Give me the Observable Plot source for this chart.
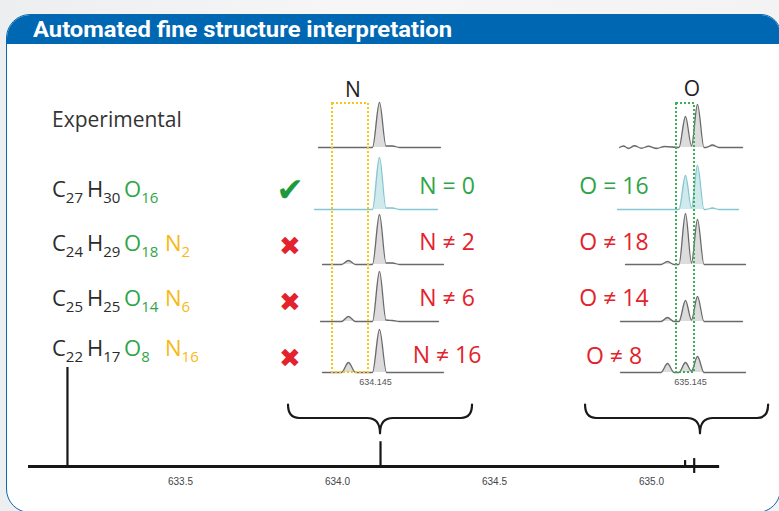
<!DOCTYPE html>
<html>
<head>
<meta charset="utf-8">
<script src="https://cdn.jsdelivr.net/npm/d3@7"></script>
<script src="https://cdn.jsdelivr.net/npm/@observablehq/plot@0.6"></script>
<style>
  html, body { margin:0; padding:0; }
  body { width:779px; height:511px; overflow:hidden; background:#f2f3f4; }
  #page { position:relative; width:779px; height:511px; overflow:hidden;
          background: linear-gradient(90deg, #eceef0 0%, #f6f6f6 45%, #f3f3f3 100%); }
  #box { position:absolute; left:6px; top:14px; width:775px; height:499px; box-sizing:border-box;
         border:1.5px solid #0a68b3; border-radius:24px 20px 24px 24px; background:#fff; overflow:hidden; }
  #hdr { height:29px; background:#0067b2; color:#fff; font:700 22px Roboto, sans-serif; line-height:29px;
         padding-left:26px; white-space:nowrap; }
  #hdr span { display:inline-block; transform-origin:0 50%; }
  .formula { position:absolute; white-space:nowrap; font-family:"Open Sans", sans-serif; line-height:1; }
  .formula .g { display:inline-block; font-size:22px; }
  .formula sub { font-size:15px; vertical-align:-6px; line-height:0; }
</style>
</head>
<body>
<div id="page">
  <div id="box"><div id="hdr"><span id="title">Automated fine structure interpretation</span></div></div>
</div>
<script>
// ---------------- data ----------------
// overview spectrum (stick peaks, m/z and relative intensity)
const mainMz     = [633.14, 634.137, 635.107, 635.136];
const mainTop    = [1.00, 0.25, 0.06, 0.08];
const mainLow    = [0, 0, 0, -0.07];
const mainSpan   = [633.016, 635.217];
const mainTicks  = [633.5, 634.0, 634.5, 635.0];

// candidate formulas
const formulas = [
  [["C","27"],["H","30"],["O","16"]],
  [["C","24"],["H","29"],["O","18"],["N","2"]],
  [["C","25"],["H","25"],["O","14"],["N","6"]],
  [["C","22"],["H","17"],["O","8"],["N","16"]]
];
const nCounts = [0, 2, 6, 16];
const oCounts = [16, 18, 14, 8];
const isMatch = [true, false, false, false];
const rowLabels = ["Experimental"];

// N fine-structure window (row 0 = experimental, rows 1..4 = candidates)
const nTick     = [634.145];
const nRegion   = [634.1364, 634.1436];
const nExtents  = [[634.1336,634.158],[634.1328,634.1574],[634.1344,634.1586],[634.134,634.1576],[634.1344,634.1586]];
const nPeaksMz  = [[634.1458,634.1484],[634.1458,634.1484],[634.1396,634.1458,634.1484],[634.1396,634.1458,634.1484],[634.1396,634.1458]];
const nPeaksH   = [[0.90,0.03],[1.04,0.03],[0.08,1.00,0.03],[0.10,1.00,0.02],[0.20,0.86]];

// O fine-structure window
const oTick     = [635.145];
const oRegion   = [635.1422, 635.1458];
const oExtents  = [[635.1308,635.1554],[635.1304,635.1546],[635.132,635.156],[635.131,635.1554],[635.131,635.156]];
const oPeaksMz  = [[635.144,635.1464,635.1494],[635.144,635.1464,635.1494],[635.1404,635.144,635.1464],[635.1404,635.144,635.1464],[635.1404,635.144,635.1464]];
const oPeaksH   = [[0.62,0.86,0.05],[0.68,0.88,0.03],[0.06,1.02,0.90],[0.08,0.42,0.50],[0.18,0.20,0.32]];
const oNoiseMz  = [635.1316,635.1326,635.1338,635.1352,635.1366,635.1382,635.1398];
const oNoiseH   = [0.03,-0.02,0.035,-0.015,0.025,-0.02,0.02];

// braces linking the windows to the overview spectrum
const braces = [
  {lo:633.844, mid:634.137, hi:634.430},
  {lo:634.790, mid:635.156, hi:635.373}
];

// ---------------- layout / style ----------------
const page = document.getElementById("page");
const GREEN = "#2fa548", RED = "#e3222b", YELLOW = "#f7b914", DARK = "#2b2b2b";
const rowDy = [0, 62, 117, 174, 225];
const baseStyle = {background:"transparent", overflow:"visible", position:"absolute", maxWidth:"none"};

function place(node, left, top) {
  node.style.position = "absolute";
  node.style.left = left + "px";
  node.style.top = top + "px";
  page.appendChild(node);
  return node;
}

// ---------------- overview spectrum ----------------
function braceMark(index, scales) {
  const sx = typeof scales.x === "function" ? scales.x : d3.scaleLinear([633.5, 635], [180, 651]);
  const sy = typeof scales.y === "function" ? scales.y : d3.scaleLinear([0, 1], [106, 7]);
  const g = d3.create("svg:g");
  const yT = sy(0.62), yB = sy(0.485), yP = sy(0.33);
  for (const b of braces) {
    const xL = sx(b.lo), xM = sx(b.mid), xR = sx(b.hi), r = 11, rt = 13;
    const d = `M${xL},${yT} Q${xL},${yB} ${xL + r},${yB} L${xM - rt},${yB} Q${xM},${yB} ${xM},${yP} ` +
              `Q${xM},${yB} ${xM + rt},${yB} L${xR - r},${yB} Q${xR},${yB} ${xR},${yT}`;
    g.append("path").attr("d", d).attr("fill", "none").attr("stroke", "#1a1a1a")
      .attr("stroke-width", 2.2).attr("stroke-linecap", "round").attr("stroke-linejoin", "round");
  }
  return g.node();
}

const mainIdx = d3.range(mainMz.length);
const mainPlot = Plot.plot({
  width: 779, height: 140,
  marginTop: 0, marginRight: 0, marginLeft: 0, marginBottom: 26,
  style: {...baseStyle, fontFamily: "'Liberation Sans', Arial, sans-serif", fontSize: "10px", color: "#444"},
  x: {domain: [633.5, 635.0], range: [180, 651], ticks: mainTicks, tickFormat: d3.format(".1f"),
      tickSize: 0, tickPadding: 3, label: null},
  y: {domain: [0, 1], range: [106, 7], axis: null},
  marks: [
    Plot.ruleY([{y: 0, x1: mainSpan[0], x2: mainSpan[1]}], {y: "y", x1: "x1", x2: "x2", stroke: "#161616", strokeWidth: 2.8}),
    Plot.ruleX(mainIdx, {x: i => mainMz[i], y1: i => mainLow[i], y2: i => mainTop[i], stroke: "#161616", strokeWidth: 2.2}),
    braceMark
  ]
});
place(mainPlot, 0, 360);

// ---------------- fine-structure panels ----------------
// turn a peak list into a drawable profile (base / apex / base per peak, shared valley when peaks touch)
function profile(mzs, hs, extent, hw) {
  const idx = d3.range(mzs.length).sort((a, b) => mzs[a] - mzs[b]);
  const pts = [{mz: extent[0], h: 0}];
  idx.forEach((i, k) => {
    const c = mzs[i];
    const prev = k > 0 ? mzs[idx[k - 1]] : -Infinity;
    const next = k < idx.length - 1 ? mzs[idx[k + 1]] : Infinity;
    if (c - hw >= prev + hw) pts.push({mz: c - hw, h: 0});
    pts.push({mz: c, h: hs[i]});
    if (c + hw <= next - hw) pts.push({mz: c + hw, h: 0});
    else pts.push({mz: (c + next) / 2, h: 0.03});
  });
  pts.push({mz: extent[1], h: 0});
  return pts;
}

function panel({domain, range, width, mzs, hs, extents, region, regionColor, tick, hw, noise}) {
  const marks = [];
  mzs.forEach((m, i) => {
    let pts = profile(m, hs[i], extents[i], hw);
    if (i === 0 && noise) {
      noise.mz.forEach((c, k) => pts.push({mz: c, h: noise.h[k]}));
      pts.sort((a, b) => a.mz - b.mz);
    }
    const match = i > 0 && isMatch[i - 1];
    marks.push(Plot.areaY(pts, {x: "mz", y: "h", curve: "monotone-x", fill: match ? "#cfe9ed" : "#dcdcdc", dy: rowDy[i]}));
    marks.push(Plot.lineY(pts, {x: "mz", y: "h", curve: "monotone-x", stroke: match ? "#86c7cf" : "#6a6a6a", strokeWidth: 1.3, dy: rowDy[i]}));
  });
  marks.push(Plot.rect([region], {x1: d => d[0], x2: d => d[1], fill: "none", stroke: regionColor,
    strokeWidth: 2, strokeDasharray: "2 2"}));
  return Plot.plot({
    width, height: 320,
    marginTop: 33, marginBottom: 18, marginLeft: 0, marginRight: 0,
    style: {...baseStyle, fontFamily: "'Liberation Sans', Arial, sans-serif", fontSize: "9px", color: "#555"},
    x: {domain, range, ticks: tick, tickFormat: d3.format(".3f"), tickSize: 0, tickPadding: 6, label: null},
    y: {domain: [0, 1], range: [77, 27], axis: null},
    marks
  });
}

place(panel({domain: [634.134, 634.1584], range: [20, 142], width: 190, mzs: nPeaksMz, hs: nPeaksH,
  extents: nExtents, region: nRegion, regionColor: "#f5c518", tick: nTick, hw: 0.0014}), 300, 70);
place(panel({domain: [635.13, 635.157], range: [55, 190], width: 200, mzs: oPeaksMz, hs: oPeaksH,
  extents: oExtents, region: oRegion, regionColor: "#3cb054", tick: oTick, hw: 0.0013,
  noise: {mz: oNoiseMz, h: oNoiseH}}), 560, 70);

// ---------------- text ----------------
function label(text, x, y, {size = 22, color = DARK, anchor = "middle", weight = 400, family = "'Open Sans', sans-serif"} = {}) {
  const d = document.createElement("div");
  d.textContent = text;
  Object.assign(d.style, {font: `${weight} ${size}px ${family}`, color, lineHeight: "1", whiteSpace: "nowrap",
    transform: `translate(${anchor === "middle" ? "-50%" : anchor === "end" ? "-100%" : "0"}, -50%)`});
  return place(d, x, y);
}

label(rowLabels[0], 52, 119, {size: 21, anchor: "start", color: "#333"});
label("N", 353, 89, {size: 21, color: "#222"});
label("O", 692, 88, {size: 21, color: "#222"});

const rowY = [188, 242, 297, 347];
const groupW = [35, 37, 41, 40];
const elemColor = {C: DARK, H: DARK, O: GREEN, N: YELLOW};
formulas.forEach((f, r) => {
  const d = document.createElement("div");
  d.className = "formula";
  f.forEach(([el, n], k) => {
    const s = document.createElement("span");
    s.className = "g";
    s.style.width = groupW[k] + "px";
    s.style.color = elemColor[el];
    s.innerHTML = `${el}<sub>${n}</sub>`;
    d.appendChild(s);
  });
  d.style.transform = "translateY(-50%)";
  place(d, 52, rowY[r]);
});

const markY = [189, 246, 302, 358];
isMatch.forEach((m, r) => {
  label(m ? "\u2714" : "\u2716", 290, markY[r], {size: m ? 33 : 26, color: m ? "#1e9a3d" : RED, family: "'DejaVu Sans', sans-serif"});
});

const nY = [185, 241, 297, 354], oY = [185, 241, 297, 355];
nCounts.forEach((n, r) => label(`N ${isMatch[r] ? "=" : "\u2260"} ${n}`, 447, nY[r], {size: 23, color: isMatch[r] ? GREEN : RED}));
oCounts.forEach((o, r) => label(`O ${isMatch[r] ? "=" : "\u2260"} ${o}`, 614, oY[r], {size: 23, color: isMatch[r] ? GREEN : RED}));

// fit title to the reference width
const t = document.getElementById("title");
const w = t.getBoundingClientRect().width;
if (w > 0) t.style.transform = `scaleX(${419 / w})`;
</script>
</body>
</html>
